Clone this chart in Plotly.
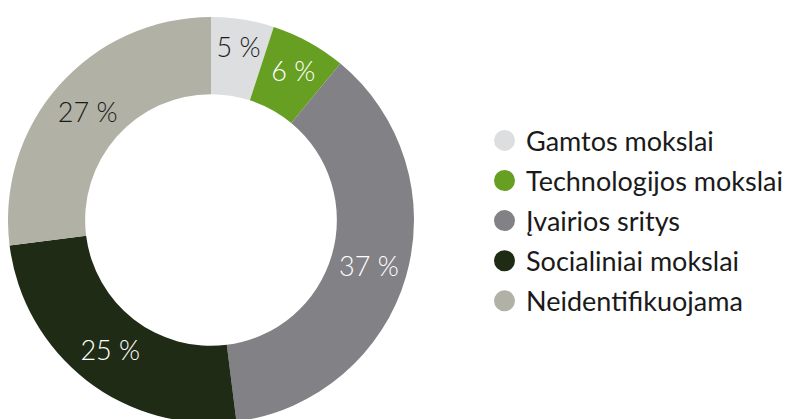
import plotly.graph_objects as go

# Duomenys
sritys = [
    "Gamtos mokslai",
    "Technologijos mokslai",
    "Įvairios sritys",
    "Socialiniai mokslai",
    "Neidentifikuojama",
]
procentai = [5, 6, 37, 25, 27]
spalvos = ["#dddee0", "#679f22", "#828186", "#1f2b15", "#b1b2a5"]
teksto_spalvos = ["#1a1a1a", "#ffffff", "#ffffff", "#ffffff", "#1a1a1a"]

FONT = "Lato"
W, H = 812, 419

fig = go.Figure()

fig.add_trace(
    go.Pie(
        labels=sritys,
        values=procentai,
        sort=False,
        direction="clockwise",
        rotation=0,
        hole=0.62,
        marker=dict(colors=spalvos, line=dict(width=0)),
        texttemplate="%{value} %",
        textposition="inside",
        insidetextorientation="horizontal",
        textfont=dict(family=FONT, size=27, color=teksto_spalvos, weight=300),
        domain=dict(x=[0, 406 / W], y=[1 - 415 / H, 1 - 9 / H]),
        showlegend=False,
        hoverinfo="label+percent",
    )
)

# legenda su apskritimais
for i, (sritis, spalva) in enumerate(zip(sritys, spalvos)):
    fig.add_trace(
        go.Scatter(
            x=[None],
            y=[None],
            mode="markers",
            name=sritis,
            legendgroup=str(i),
            marker=dict(
                symbol="circle",
                size=16,
                color=spalva,
                line=dict(width=5, color=spalva),
            ),
        )
    )

fig.update_layout(
    width=W,
    height=H,
    margin=dict(l=0, r=0, t=0, b=0),
    paper_bgcolor="white",
    plot_bgcolor="white",
    xaxis=dict(visible=False),
    yaxis=dict(visible=False),
    uniformtext=dict(minsize=27, mode="show"),
    legend=dict(
        x=475 / W,
        y=0.492,
        xanchor="left",
        yanchor="middle",
        itemwidth=33,
        tracegroupgap=2,
        font=dict(family=FONT, size=27, color="#1a1a1a"),
        bgcolor="rgba(0,0,0,0)",
    ),
    showlegend=True,
)

fig.write_html("out.html")
